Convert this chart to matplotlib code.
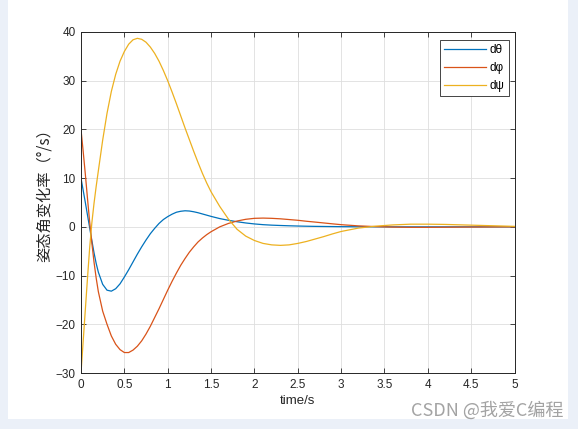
import numpy as np
import matplotlib
matplotlib.use("Agg")
import matplotlib.pyplot as plt
from matplotlib.patches import Rectangle

plt.rcParams['font.family'] = ['Liberation Sans', 'Noto Sans CJK SC', 'DejaVu Sans']

# time samples (s)
t = [0, 0.025, 0.05, 0.075, 0.1, 0.125, 0.15, 0.175, 0.2,
     0.25, 0.3, 0.35, 0.4, 0.45, 0.5, 0.55, 0.6, 0.65, 0.7, 0.75, 0.8, 0.85,
     0.9, 0.95, 1.0, 1.05, 1.1, 1.15, 1.2, 1.25, 1.3, 1.35, 1.4, 1.45, 1.5,
     1.6, 1.7, 1.8, 1.9, 2.0, 2.1, 2.2, 2.3, 2.4, 2.5, 2.6, 2.7, 2.8, 2.9, 3.0,
     3.2, 3.4, 3.6, 3.8, 4.0, 4.2, 4.4, 4.6, 4.8, 5.0]

d_theta = [10, 7.5, 5.0, 2.4, -0.2, -2.8, -5.3, -7.5, -9.3,
           -11.8, -13.0, -13.2, -12.7, -11.7, -10.3, -8.8, -7.2, -5.6, -4.1, -2.7,
           -1.4, -0.3, 0.7, 1.5, 2.1, 2.6, 3.0, 3.2, 3.3, 3.25, 3.1, 2.9, 2.65,
           2.4, 2.15, 1.7, 1.35, 1.05, 0.8, 0.6, 0.45, 0.35, 0.28, 0.22, 0.17,
           0.13, 0.1, 0.08, 0.06, 0.04, 0.02, 0.01, 0.0, 0.0, 0.0, 0.0, 0.0, 0.0,
           0.0, 0.0]

d_phi = [20, 15.5, 10.8, 5.8, 1.0, -3.3, -7.2, -10.5, -13.3,
         -17.3, -20.0, -22.4, -24.1, -25.2, -25.8, -25.8, -25.3, -24.5, -23.4,
         -22.0, -20.4, -18.6, -16.8, -14.9, -13.0, -11.2, -9.5, -7.9, -6.5, -5.2,
         -4.1, -3.1, -2.3, -1.6, -1.0, 0.0, 0.7, 1.2, 1.55, 1.75, 1.8, 1.75, 1.65,
         1.5, 1.35, 1.15, 0.98, 0.8, 0.62, 0.45, 0.2, 0.05, -0.05, -0.1, -0.1,
         -0.08, -0.05, -0.03, -0.01, 0.0]

d_psi = [-30, -23.5, -17.0, -10.5, -4.3, 0.8, 4.8, 8.3, 11.5,
         17.8, 23.3, 27.8, 31.3, 34.0, 36.0, 37.5, 38.4, 38.7, 38.5, 37.9, 36.9,
         35.6, 34.0, 32.1, 30.0, 27.7, 25.3, 22.8, 20.3, 17.9, 15.5, 13.2, 11.0,
         9.0, 7.2, 4.2, 1.6, -0.5, -1.9, -2.8, -3.4, -3.7, -3.8, -3.7, -3.4, -3.0,
         -2.5, -2.0, -1.45, -0.95, -0.25, 0.15, 0.4, 0.55, 0.55, 0.5, 0.4, 0.3,
         0.2, 0.1]

labels = ['dθ', 'dφ', 'dψ']
colors = ['#0072BD', '#D95319', '#EDB120']

fig = plt.figure(figsize=(5.78, 4.29), dpi=100, facecolor='#EBF0F8')
fig.patches.append(Rectangle((8 / 578, 1 - 418.7 / 429), 560 / 578, 418.7 / 429,
                             transform=fig.transFigure, facecolor='white',
                             edgecolor='none', zorder=-10))

ax = fig.add_axes([81 / 578, 1 - 373 / 429, 433.5 / 578, 341 / 429])
for y, lab, c in zip([d_theta, d_phi, d_psi], labels, colors):
    ax.plot(t, y, color=c, lw=0.9, label=lab)

ax.set_xlim(0, 5)
ax.set_ylim(-30, 40)
ax.set_xticks(np.arange(0, 5.01, 0.5))
ax.set_xticklabels(['0', '0.5', '1', '1.5', '2', '2.5', '3', '3.5', '4', '4.5', '5'])
ax.set_yticks(np.arange(-30, 41, 10))
ax.grid(True, color='#dedede', lw=0.6)
ax.set_axisbelow(True)
ax.tick_params(direction='in', top=True, right=True, length=3.5, width=0.6,
               labelsize=8.5, colors='#262626', pad=4)
for s in ax.spines.values():
    s.set_color('#262626')
    s.set_linewidth(0.7)

ax.set_xlabel('time/s', fontsize=9.5, color='#262626', labelpad=3)
ax.set_ylabel('姿态角变化率（°/s）', fontsize=11, color='#262626',
              family=['Noto Sans CJK SC', 'DejaVu Sans'])
ax.yaxis.set_label_coords(-0.066, 0.532)

leg = ax.legend(loc='upper right', bbox_to_anchor=(0.987, 0.977), borderaxespad=0,
                fontsize=8.5, fancybox=False, edgecolor='#262626', framealpha=1,
                handlelength=3.6, handletextpad=0.3, labelspacing=0.5,
                borderpad=0.35)
leg.get_frame().set_linewidth(0.6)

fig.text(563 / 578, 1 - 410 / 429, 'CSDN @我爱C编程', ha='right', va='center',
         fontsize=13, color='#a3a3a3', family=['Noto Sans CJK SC', 'DejaVu Sans'])

fig.savefig('out.png', dpi=100, facecolor=fig.get_facecolor())
